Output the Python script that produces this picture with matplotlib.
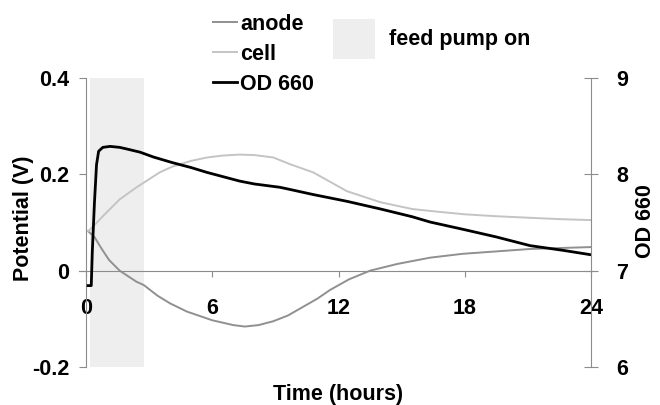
import numpy as np
import matplotlib
matplotlib.use("Agg")
import matplotlib.pyplot as plt
from matplotlib.patches import Patch

plt.rcParams["font.family"] = ["Liberation Sans", "DejaVu Sans"]
plt.rcParams["font.weight"] = "bold"
plt.rcParams["font.size"] = 15.5

# Anode potential (V) vs time (hours)
anode_t = [0.1, 0.4, 0.75, 1.1, 1.6, 2.4, 2.75, 3.4, 4.0, 4.8, 6.0, 7.0, 7.55, 8.2,
           8.9, 9.6, 10.2, 11.0, 11.6, 12.5, 13.5, 14.8, 16.35, 17.9, 19.5, 21.1, 22.5, 24]
anode_v = [0.082, 0.07, 0.045, 0.022, 0.0, -0.023, -0.03, -0.052, -0.068, -0.085, -0.103,
           -0.113, -0.116, -0.113, -0.105, -0.093, -0.078, -0.058, -0.04, -0.018, 0.0,
           0.014, 0.027, 0.035, 0.040, 0.045, 0.047, 0.049]

# Cell potential (V)
cell_t = [0.1, 0.3, 0.8, 1.6, 2.4, 3.5, 4.1, 5.0, 5.75, 6.5, 7.3, 8.0, 8.9, 9.7, 10.8,
          12.4, 14.0, 15.5, 16.8, 18.0, 19.5, 21.0, 22.5, 24]
cell_v = [0.082, 0.09, 0.113, 0.148, 0.173, 0.204, 0.216, 0.228, 0.235, 0.239, 0.241,
          0.240, 0.235, 0.221, 0.204, 0.165, 0.142, 0.128, 0.122, 0.117, 0.113, 0.110,
          0.107, 0.105]

# OD 660 (right axis)
od_t = [0.1, 0.25, 0.3, 0.4, 0.5, 0.6, 0.8, 1.14, 1.6, 2.0, 2.57, 3.2, 4.13, 5.0, 5.75,
        7.3, 8.0, 9.2, 9.55, 10.8, 12.4, 14.0, 15.5, 16.35, 17.9, 19.5, 21.1, 22.7, 24]
od_v = [6.845, 6.845, 7.2, 7.7, 8.1, 8.24, 8.28, 8.29, 8.28, 8.26, 8.23, 8.18, 8.12, 8.07,
        8.02, 7.93, 7.90, 7.866, 7.85, 7.79, 7.72, 7.64, 7.56, 7.505, 7.43, 7.35, 7.26,
        7.21, 7.165]

pump_on = (0.19, 2.75)

x_ticks = [0, 6, 12, 18, 24]
left_ticks = [-0.2, 0, 0.2, 0.4]
left_labels = ["-0.2", "0", "0.2", "0.4"]
right_ticks = [6, 7, 8, 9]

spine_col = "#8c8c8c"

fig = plt.figure(figsize=(6.6, 4.05), dpi=100)
ax = fig.add_axes([86 / 660, 1 - 367 / 405, 505 / 660, 289 / 405])
ax2 = ax.twinx()

ax.axvspan(*pump_on, color="#eeeeee", zorder=0, lw=0)
l_anode, = ax.plot(anode_t, anode_v, color="#909090", lw=1.4)
l_cell, = ax.plot(cell_t, cell_v, color="#c4c4c4", lw=1.4)
l_od, = ax2.plot(od_t, od_v, color="black", lw=2.0)

ax.set_xlim(0, 24)
ax.set_ylim(-0.2, 0.4)
ax2.set_ylim(6, 9)

for a in (ax, ax2):
    a.spines["top"].set_visible(False)
ax.spines["right"].set_visible(False)
ax2.spines["left"].set_visible(False)
ax2.spines["bottom"].set_visible(False)

ax.spines["bottom"].set_position(("data", 0))
ax.spines["bottom"].set_bounds(-0.33, 24.3)
ax.spines["bottom"].set_color(spine_col)
ax.spines["left"].set_color(spine_col)
ax2.spines["right"].set_color(spine_col)

ax.set_xticks(x_ticks)
ax.set_xticklabels([str(v) for v in x_ticks])
ax.set_yticks(left_ticks)
ax.set_yticklabels(left_labels)
ax2.set_yticks(right_ticks)

ax.tick_params(axis="x", direction="out", length=4.5, pad=15, color=spine_col)
ax.tick_params(axis="y", direction="out", length=5, pad=7, color=spine_col)
ax2.tick_params(axis="y", direction="inout", length=10, pad=13, color=spine_col)

ax.set_xlabel("Time (hours)", fontweight="bold")
ax.xaxis.set_label_coords(0.499, -0.059)
ax.set_ylabel("Potential (V)", fontweight="bold")
ax.yaxis.set_label_coords(-0.103, 0.515)
ax2.set_ylabel("OD 660", fontweight="bold", rotation=90)
ax2.yaxis.set_label_coords(1.087, 0.505)

fig.legend([l_anode, l_cell, l_od], ["anode", "cell", "OD 660"],
           loc="upper left", bbox_to_anchor=(213 / 660, 1 - 14 / 405),
           frameon=False, borderpad=0, borderaxespad=0, handlelength=1.1,
           handletextpad=0.15, labelspacing=0.41)
fig.legend([Patch(facecolor="#eeeeee", edgecolor="none")], ["feed pump on"],
           loc="upper left", bbox_to_anchor=(333 / 660, 1 - 19 / 405),
           frameon=False, borderpad=0, borderaxespad=0, handlelength=1.95,
           handleheight=2.45, handletextpad=0.65)

fig.savefig("out.png", dpi=100)
